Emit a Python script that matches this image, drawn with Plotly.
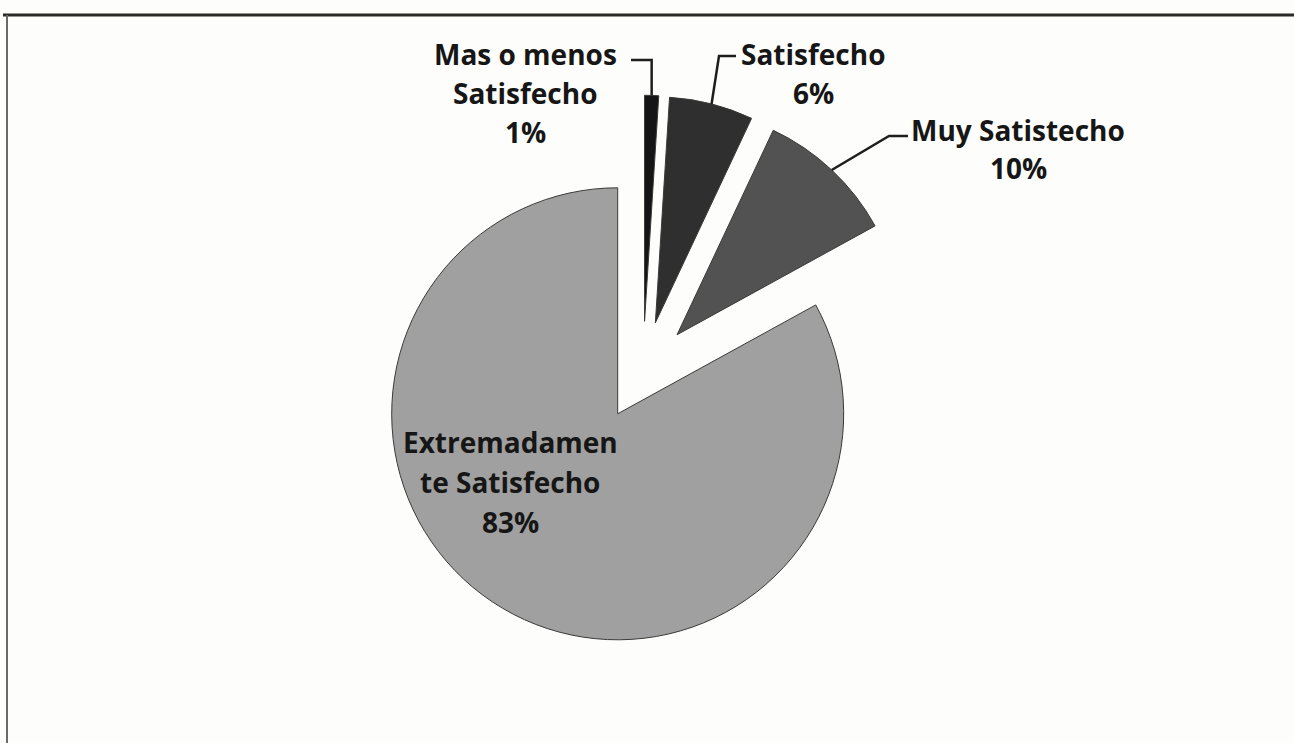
import math
import plotly.graph_objects as go

# Satisfaction survey: share of respondents per level
labels = ["Mas o menos Satisfecho", "Satisfecho", "Muy Satistecho", "Extremadamente Satisfecho"]
values = [1, 6, 10, 83]
label_lines = [["Mas o menos", "Satisfecho"], ["Satisfecho"], ["Muy Satistecho"], ["Extremadamen", "te Satisfecho"]]
colors = ["#151515", "#2f2f2f", "#525252", "#a0a0a0"]

W, H = 1294, 743
CX, CY = 643, 371          # pie centre in pixels (from top-left)
R = 226                    # pie radius in pixels
PULL = 0.22                # every slice is exploded by the same fraction
HALF = R * (1 + PULL)

FONT = "Open Sans"
TXT = "#161616"


def px(x):
    return x / W


def py(y):
    return 1 - y / H


fig = go.Figure(
    go.Pie(
        labels=labels,
        values=values,
        sort=False,
        direction="clockwise",
        rotation=0,
        pull=[PULL] * len(values),
        marker=dict(colors=colors, line=dict(color="#3a3a3a", width=1)),
        textinfo="none",
        hoverinfo="label+percent",
        showlegend=False,
        domain=dict(x=[px(CX - HALF), px(CX + HALF)], y=[py(CY + HALF), py(CY - HALF)]),
    )
)

# label blocks: centre x and the y of each text line (pixels)
label_pos = [
    (525, [54, 93, 132]),
    (813, [54, 93]),
    (1018, [130, 168]),
    (510, [442, 482, 522]),
]

annotations = []
for i, (lx, ys) in enumerate(label_pos):
    lines = label_lines[i] + [f"{values[i]}%"]
    for text, ly in zip(lines, ys):
        annotations.append(dict(
            x=px(lx), y=py(ly), xref="paper", yref="paper",
            text=text, showarrow=False, xanchor="center", yanchor="middle",
            font=dict(family=FONT, size=28, color=TXT, weight="bold"),
        ))

# anchor points on the outer arc of the exploded slices, from the data
total = sum(values)
anchors = []
acc = 0
for v in values:
    mid = (acc + v / 2) / total * 2 * math.pi
    acc += v
    d = R * (1 + PULL)
    anchors.append((CX + d * math.sin(mid), CY - d * math.cos(mid)))

# elbow leader lines for the three small slices: text end, corner, slice
leaders = [
    ((631, 60), None),
    ((736, 56), (719, 56)),
    ((908, 136), (889, 136)),
]
shapes = []
for i, (start, corner) in enumerate(leaders):
    ax, ay = anchors[i]
    if corner is None:
        corner = (ax, start[1])
    pts = [start, corner, (ax, ay)]
    path = "M " + " L ".join(f"{px(x)},{py(y)}" for x, y in pts)
    shapes.append(dict(type="path", path=path, xref="paper", yref="paper",
                       line=dict(color="#1e1e1e", width=2.5)))

# chart frame: top and left edges
shapes.append(dict(type="line", xref="paper", yref="paper",
                   x0=px(3), x1=1, y0=py(15), y1=py(15),
                   line=dict(color="#2a2a2a", width=3)))
shapes.append(dict(type="line", xref="paper", yref="paper",
                   x0=px(7), x1=px(7), y0=py(15), y1=0,
                   line=dict(color="#6a6a6a", width=2)))

fig.update_layout(
    width=W, height=H,
    margin=dict(l=0, r=0, t=0, b=0),
    paper_bgcolor="#fdfdfb",
    plot_bgcolor="#fdfdfb",
    annotations=annotations,
    shapes=shapes,
)

fig.write_html("out.html")
